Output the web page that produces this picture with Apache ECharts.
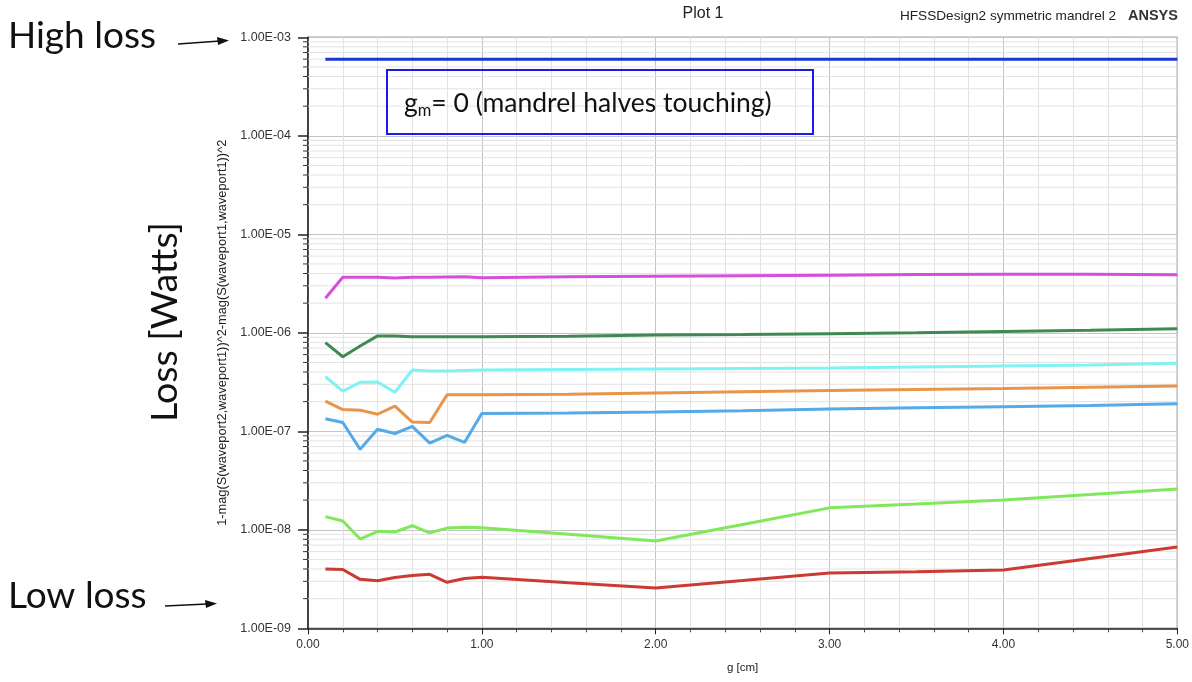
<!DOCTYPE html>
<html><head><meta charset="utf-8">
<script src="https://cdn.jsdelivr.net/npm/echarts@6/dist/echarts.min.js"></script>
<style>html,body{margin:0;padding:0;background:#fff}#c{width:1192px;height:682px}</style>
</head><body><div id="c"></div>
<script>
const xs = [0.1,0.2,0.3,0.4,0.5,0.6,0.7,0.8,0.9,1.0,1.5,2.0,2.5,3.0,3.5,4.0,4.5,5.0];
const gm0      = [5.98e-4,5.98e-4,5.98e-4,5.98e-4,5.98e-4,5.98e-4,5.98e-4,5.98e-4,5.98e-4,5.98e-4,5.98e-4,5.98e-4,5.98e-4,5.98e-4,5.98e-4,5.98e-4,5.98e-4,5.98e-4];
const magenta  = [2.24e-6,3.66e-6,3.66e-6,3.66e-6,3.6e-6,3.66e-6,3.66e-6,3.68e-6,3.7e-6,3.62e-6,3.7e-6,3.75e-6,3.8e-6,3.85e-6,3.9e-6,3.92e-6,3.92e-6,3.88e-6];
const dkgreen  = [7.94e-7,5.71e-7,7.35e-7,9.3e-7,9.3e-7,9.1e-7,9.1e-7,9.1e-7,9.1e-7,9.1e-7,9.2e-7,9.5e-7,9.6e-7,9.8e-7,1.0e-6,1.03e-6,1.06e-6,1.1e-6];
const cyan     = [3.58e-7,2.56e-7,3.14e-7,3.17e-7,2.49e-7,4.19e-7,4.1e-7,4.1e-7,4.15e-7,4.19e-7,4.25e-7,4.3e-7,4.35e-7,4.4e-7,4.5e-7,4.6e-7,4.7e-7,4.9e-7];
const orange   = [2.02e-7,1.66e-7,1.64e-7,1.49e-7,1.8e-7,1.24e-7,1.23e-7,2.35e-7,2.35e-7,2.35e-7,2.38e-7,2.45e-7,2.52e-7,2.6e-7,2.66e-7,2.72e-7,2.8e-7,2.88e-7];
const ltblue   = [1.34e-7,1.23e-7,6.56e-8,1.05e-7,9.5e-8,1.12e-7,7.6e-8,9.1e-8,7.7e-8,1.52e-7,1.53e-7,1.57e-7,1.62e-7,1.68e-7,1.73e-7,1.78e-7,1.83e-7,1.9e-7];
const ltgreen  = [1.36e-8,1.23e-8,8.05e-9,9.65e-9,9.5e-9,1.1e-8,9.3e-9,1.04e-8,1.06e-8,1.05e-8,9.0e-9,7.7e-9,1.13e-8,1.67e-8,1.83e-8,2.01e-8,2.28e-8,2.6e-8];
const red      = [4.0e-9,3.95e-9,3.14e-9,3.04e-9,3.28e-9,3.43e-9,3.53e-9,2.93e-9,3.2e-9,3.3e-9,2.9e-9,2.56e-9,3.05e-9,3.64e-9,3.75e-9,3.9e-9,5.1e-9,6.68e-9];
const yTickLabels = ['1.00E-09','1.00E-08','1.00E-07','1.00E-06','1.00E-05','1.00E-04','1.00E-03'];
const yDecades = [-9,-8,-7,-6,-5,-4];
const xTickLabels = ['0.00','1.00','2.00','3.00','4.00','5.00'];

const seriesDefs = [
  {name:'gm0', data:gm0, color:'#1836d6'},
  {name:'magenta', data:magenta, color:'#d64fdc'},
  {name:'dkgreen', data:dkgreen, color:'#3f8a50'},
  {name:'cyan', data:cyan, color:'#80f2f2'},
  {name:'orange', data:orange, color:'#e8954a'},
  {name:'ltblue', data:ltblue, color:'#55aae8'},
  {name:'ltgreen', data:ltgreen, color:'#80e85a'},
  {name:'red', data:red, color:'#cc3b33'}
];

const minorY = [];
yDecades.forEach(e => { for (let m = 2; m <= 9; m++) minorY.push([m * Math.pow(10, e)]); });

const chart = echarts.init(document.getElementById('c'), null, {renderer:'canvas'});
const FONT = '"Liberation Sans", Arial, sans-serif';
const LATO = 'Lato, "Noto Sans", sans-serif';

const option = {
  animation:false,
  backgroundColor:'#fff',
  grid:{left:308, right:11.5, top:37.3, bottom:53.7, show:true, borderColor:'#222', borderWidth:1},
  xAxis:{
    type:'value', min:0, max:5, interval:1,
    name:'g [cm]', nameLocation:'middle', nameGap:34,
    nameTextStyle:{fontFamily:FONT, fontSize:11.5, color:'#222'},
    axisLine:{show:true, onZero:false, lineStyle:{color:'#222', width:1.5}},
    axisTick:{show:true, length:6, lineStyle:{color:'#222'}},
    minorTick:{show:true, splitNumber:5, length:4, lineStyle:{color:'#444'}},
    axisLabel:{fontFamily:FONT, fontSize:12, color:'#333', margin:10,
      formatter:v => xTickLabels[Math.round(v)]},
    splitLine:{show:true, lineStyle:{color:'#c4c4c4', width:1}},
    minorSplitLine:{show:true, lineStyle:{color:'#e3e3e3', width:1}}
  },
  yAxis:{
    type:'log', logBase:10, min:1e-9, max:1e-3,
    name:'1-mag(S(waveport2,waveport1))^2-mag(S(waveport1,waveport1))^2',
    nameLocation:'middle', nameGap:74, nameRotate:90,
    nameTextStyle:{fontFamily:FONT, fontSize:12.8, color:'#222'},
    axisLine:{show:true, lineStyle:{color:'#222', width:1.5}},
    axisTick:{show:true, length:10, lineStyle:{color:'#222', width:1.5}},
    axisLabel:{fontFamily:FONT, fontSize:12.5, color:'#333', margin:17,
      formatter:v => yTickLabels[Math.round(Math.log10(v)) + 9]},
    splitLine:{show:true, lineStyle:{color:'#c4c4c4', width:1}}
  },
  graphic:[
    {type:'text', x:703, y:6, style:{text:'Plot 1', fontFamily:FONT, fontSize:16, fill:'#222', textAlign:'center'}},
    {type:'text', x:900, y:9, style:{text:'HFSSDesign2 symmetric mandrel 2', fontFamily:FONT, fontSize:13.6, fill:'#222'}},
    {type:'text', x:1128, y:8, style:{text:'ANSYS', fontFamily:FONT, fontSize:14.5, fontWeight:'bold', fill:'#333'}},
    {type:'text', x:8, y:18, style:{text:'High loss', fontFamily:LATO, fontSize:37, fill:'#111'}},
    {type:'text', x:8, y:578, style:{text:'Low loss', fontFamily:LATO, fontSize:37, fill:'#111'}},
    {type:'line', shape:{x1:178, y1:44, x2:220, y2:41}, style:{stroke:'#111', lineWidth:1.5}},
    {type:'polygon', shape:{points:[[229,40.5],[217,37],[218,45]]}, style:{fill:'#111'}},
    {type:'line', shape:{x1:165, y1:606, x2:207, y2:604}, style:{stroke:'#111', lineWidth:1.5}},
    {type:'polygon', shape:{points:[[217,603.5],[205,600],[206,608]]}, style:{fill:'#111'}},
    {type:'text', x:146, y:422, rotation:Math.PI/2, style:{text:'Loss [Watts]', fontFamily:LATO, fontSize:37.5, fill:'#111'}},
    {type:'rect', shape:{x:387, y:70, width:426, height:64}, style:{fill:null, stroke:'#1a1aee', lineWidth:2}, z:10},
    {type:'text', x:404, y:87, z:11, style:{
      rich:{a:{fontFamily:LATO, fontSize:26.5, fill:'#111'}, b:{fontFamily:LATO, fontSize:16.5, fill:'#111', padding:[15,0,0,0]}},
      text:'{a|g}{b|m}{a|= 0 (mandrel halves touching)}'}}
  ],
  series:[
    {
      type:'custom', name:'minorGrid', silent:true, clip:false, z:1,
      data:minorY,
      renderItem:(params, api) => {
        const v = api.value(0);
        const p0 = api.coord([0, v]);
        const p1 = api.coord([5, v]);
        return {type:'group', children:[
          {type:'line', shape:{x1:p0[0], y1:p0[1], x2:p1[0], y2:p1[1]}, style:{stroke:'#e3e3e3', lineWidth:1}},
          {type:'line', shape:{x1:p0[0]-5, y1:p0[1], x2:p0[0], y2:p0[1]}, style:{stroke:'#333', lineWidth:1}}
        ]};
      },
      encode:{y:0}
    }
  ].concat(seriesDefs.map(s => ({
    type:'line', name:s.name, z:5, showSymbol:false, symbol:'none',
    data:xs.map((x,i) => [x, s.data[i]]),
    lineStyle:{color:s.color, width:3}, itemStyle:{color:s.color}
  })))
};
chart.setOption(option);
</script></body></html>
